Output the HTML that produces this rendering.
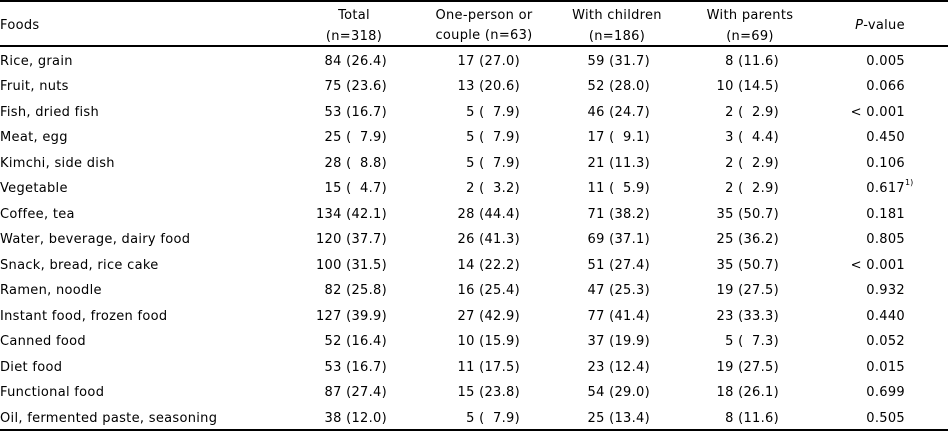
<!DOCTYPE html>
<html>
<head>
<meta charset="utf-8">
<style>
html,body{margin:0;padding:0;background:#fff;}
body{width:948px;height:432px;position:relative;overflow:hidden;
font-family:"DejaVu Sans","Liberation Sans",sans-serif;font-size:13px;color:#000;letter-spacing:0.3px;}
.t{position:absolute;white-space:nowrap;line-height:20px;height:20px;}
.l{left:0;text-align:left;}
.c1{left:267px;width:120px;text-align:right;}
.c2{left:400px;width:120px;text-align:right;}
.c3{left:530px;width:120px;text-align:right;}
.c4{left:659px;width:120px;text-align:right;}
.c5{left:785px;width:120px;text-align:right;}
.h{text-align:center;width:200px;}
.line{position:absolute;left:0;width:948px;height:2px;background:#000;}
.sup{position:absolute;left:100%;top:-4px;font-size:8px;letter-spacing:0;line-height:12px;}
.rel{position:relative;}
.b{position:absolute;left:0;top:1.5px;width:948px;height:432px;}
</style>
</head>
<body>
<div class="line" style="top:0px;"></div>
<div class="line" style="top:45px;"></div>
<div class="line" style="top:429px;"></div>

<div class="t l" style="top:16px;">Foods</div>
<div class="t h" style="left:254px;top:6px;">Total</div>
<div class="t h" style="left:254px;top:27px;">(n=318)</div>
<div class="t h" style="left:384px;top:6px;">One-person or</div>
<div class="t h" style="left:384px;top:26px;">couple (n=63)</div>
<div class="t h" style="left:517px;top:6px;">With children</div>
<div class="t h" style="left:517px;top:27px;">(n=186)</div>
<div class="t h" style="left:650px;top:6px;">With parents</div>
<div class="t h" style="left:650px;top:27px;">(n=69)</div>
<div class="t h" style="left:780px;top:16px;"><i>P</i>-value</div>

<div class="b">
<!-- row 1 -->
<div class="t l" style="top:50px;">Rice, grain</div>
<div class="t c1" style="top:50px;">84 (26.4)</div>
<div class="t c2" style="top:50px;">17 (27.0)</div>
<div class="t c3" style="top:50px;">59 (31.7)</div>
<div class="t c4" style="top:50px;">8 (11.6)</div>
<div class="t c5" style="top:50px;">0.005</div>
<!-- row 2 -->
<div class="t l" style="top:75.5px;">Fruit, nuts</div>
<div class="t c1" style="top:75.5px;">75 (23.6)</div>
<div class="t c2" style="top:75.5px;">13 (20.6)</div>
<div class="t c3" style="top:75.5px;">52 (28.0)</div>
<div class="t c4" style="top:75.5px;">10 (14.5)</div>
<div class="t c5" style="top:75.5px;">0.066</div>
<!-- row 3 -->
<div class="t l" style="top:101px;">Fish, dried fish</div>
<div class="t c1" style="top:101px;">53 (16.7)</div>
<div class="t c2" style="top:101px;">5 (&#8199;7.9)</div>
<div class="t c3" style="top:101px;">46 (24.7)</div>
<div class="t c4" style="top:101px;">2 (&#8199;2.9)</div>
<div class="t c5" style="top:101px;">&lt; 0.001</div>
<!-- row 4 -->
<div class="t l" style="top:126.5px;">Meat, egg</div>
<div class="t c1" style="top:126.5px;">25 (&#8199;7.9)</div>
<div class="t c2" style="top:126.5px;">5 (&#8199;7.9)</div>
<div class="t c3" style="top:126.5px;">17 (&#8199;9.1)</div>
<div class="t c4" style="top:126.5px;">3 (&#8199;4.4)</div>
<div class="t c5" style="top:126.5px;">0.450</div>
<!-- row 5 -->
<div class="t l" style="top:152px;">Kimchi, side dish</div>
<div class="t c1" style="top:152px;">28 (&#8199;8.8)</div>
<div class="t c2" style="top:152px;">5 (&#8199;7.9)</div>
<div class="t c3" style="top:152px;">21 (11.3)</div>
<div class="t c4" style="top:152px;">2 (&#8199;2.9)</div>
<div class="t c5" style="top:152px;">0.106</div>
<!-- row 6 -->
<div class="t l" style="top:177.5px;">Vegetable</div>
<div class="t c1" style="top:177.5px;">15 (&#8199;4.7)</div>
<div class="t c2" style="top:177.5px;">2 (&#8199;3.2)</div>
<div class="t c3" style="top:177.5px;">11 (&#8199;5.9)</div>
<div class="t c4" style="top:177.5px;">2 (&#8199;2.9)</div>
<div class="t c5" style="top:177.5px;"><span class="rel">0.617<span class="sup">1)</span></span></div>
<!-- row 7 -->
<div class="t l" style="top:203px;">Coffee, tea</div>
<div class="t c1" style="top:203px;">134 (42.1)</div>
<div class="t c2" style="top:203px;">28 (44.4)</div>
<div class="t c3" style="top:203px;">71 (38.2)</div>
<div class="t c4" style="top:203px;">35 (50.7)</div>
<div class="t c5" style="top:203px;">0.181</div>
<!-- row 8 -->
<div class="t l" style="top:228.5px;">Water, beverage, dairy food</div>
<div class="t c1" style="top:228.5px;">120 (37.7)</div>
<div class="t c2" style="top:228.5px;">26 (41.3)</div>
<div class="t c3" style="top:228.5px;">69 (37.1)</div>
<div class="t c4" style="top:228.5px;">25 (36.2)</div>
<div class="t c5" style="top:228.5px;">0.805</div>
<!-- row 9 -->
<div class="t l" style="top:254px;">Snack, bread, rice cake</div>
<div class="t c1" style="top:254px;">100 (31.5)</div>
<div class="t c2" style="top:254px;">14 (22.2)</div>
<div class="t c3" style="top:254px;">51 (27.4)</div>
<div class="t c4" style="top:254px;">35 (50.7)</div>
<div class="t c5" style="top:254px;">&lt; 0.001</div>
<!-- row 10 -->
<div class="t l" style="top:279.5px;">Ramen, noodle</div>
<div class="t c1" style="top:279.5px;">82 (25.8)</div>
<div class="t c2" style="top:279.5px;">16 (25.4)</div>
<div class="t c3" style="top:279.5px;">47 (25.3)</div>
<div class="t c4" style="top:279.5px;">19 (27.5)</div>
<div class="t c5" style="top:279.5px;">0.932</div>
<!-- row 11 -->
<div class="t l" style="top:305px;">Instant food, frozen food</div>
<div class="t c1" style="top:305px;">127 (39.9)</div>
<div class="t c2" style="top:305px;">27 (42.9)</div>
<div class="t c3" style="top:305px;">77 (41.4)</div>
<div class="t c4" style="top:305px;">23 (33.3)</div>
<div class="t c5" style="top:305px;">0.440</div>
<!-- row 12 -->
<div class="t l" style="top:330.5px;">Canned food</div>
<div class="t c1" style="top:330.5px;">52 (16.4)</div>
<div class="t c2" style="top:330.5px;">10 (15.9)</div>
<div class="t c3" style="top:330.5px;">37 (19.9)</div>
<div class="t c4" style="top:330.5px;">5 (&#8199;7.3)</div>
<div class="t c5" style="top:330.5px;">0.052</div>
<!-- row 13 -->
<div class="t l" style="top:356px;">Diet food</div>
<div class="t c1" style="top:356px;">53 (16.7)</div>
<div class="t c2" style="top:356px;">11 (17.5)</div>
<div class="t c3" style="top:356px;">23 (12.4)</div>
<div class="t c4" style="top:356px;">19 (27.5)</div>
<div class="t c5" style="top:356px;">0.015</div>
<!-- row 14 -->
<div class="t l" style="top:381.5px;">Functional food</div>
<div class="t c1" style="top:381.5px;">87 (27.4)</div>
<div class="t c2" style="top:381.5px;">15 (23.8)</div>
<div class="t c3" style="top:381.5px;">54 (29.0)</div>
<div class="t c4" style="top:381.5px;">18 (26.1)</div>
<div class="t c5" style="top:381.5px;">0.699</div>
<!-- row 15 -->
<div class="t l" style="top:407px;">Oil, fermented paste, seasoning</div>
<div class="t c1" style="top:407px;">38 (12.0)</div>
<div class="t c2" style="top:407px;">5 (&#8199;7.9)</div>
<div class="t c3" style="top:407px;">25 (13.4)</div>
<div class="t c4" style="top:407px;">8 (11.6)</div>
<div class="t c5" style="top:407px;">0.505</div>
</div>
</body>
</html>
